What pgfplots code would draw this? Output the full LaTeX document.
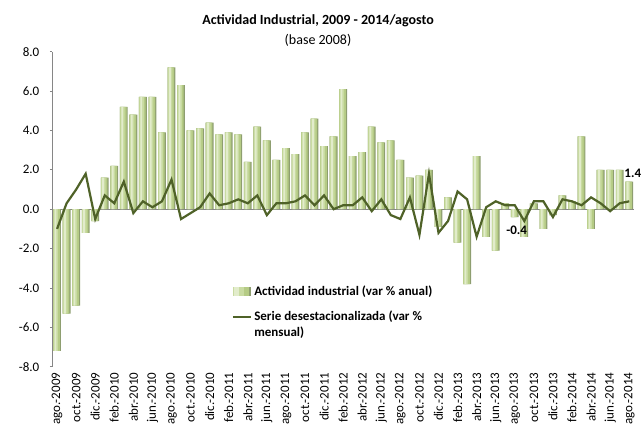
\documentclass[border=0pt]{standalone}
\usepackage{fontspec}
\setmainfont{Carlito}
\usepackage{pgfplots}
\pgfplotsset{compat=1.18}
\usepackage{pgfplotstable}

\definecolor{barshadow}{HTML}{8E9E70}
\definecolor{barbody}{HTML}{B5CB85}
\definecolor{barface}{HTML}{C9DBA2}
\definecolor{barlight}{HTML}{E2ECCB}
\definecolor{linegreen}{HTML}{4F6228}
\definecolor{axisgray}{HTML}{868686}

\newcommand\tickfont{\fontsize{13bp}{15.7bp}\selectfont}
\newcommand\titlefont{\fontsize{14bp}{17bp}\selectfont}

% n = month index from ago-2009; bar = var % anual; line = serie desestacionalizada
\pgfplotstableread{
n bar line
1 -7.2 -1.0
2 -5.3 0.3
3 -4.9 1.0
4 -1.2 1.8
5 -0.6 -0.5
6 1.6 0.7
7 2.2 0.3
8 5.2 1.4
9 4.8 -0.2
10 5.7 0.4
11 5.7 0.1
12 3.9 0.4
13 7.2 1.5
14 6.3 -0.5
15 4.0 -0.2
16 4.1 0.1
17 4.4 0.8
18 3.8 0.2
19 3.9 0.3
20 3.8 0.5
21 2.4 0.3
22 4.2 0.7
23 3.5 -0.3
24 2.5 0.3
25 3.1 0.3
26 2.8 0.4
27 3.9 0.7
28 4.6 0.2
29 3.2 0.7
30 3.7 0.0
31 6.1 0.2
32 2.7 0.2
33 2.9 0.6
34 4.2 -0.1
35 3.4 0.5
36 3.5 -0.3
37 2.5 -0.5
38 1.6 0.6
39 1.7 -1.3
40 2.0 1.8
41 -0.9 -1.2
42 0.6 -0.6
43 -1.7 0.9
44 -3.8 0.5
45 2.7 -1.4
46 -1.4 0.1
47 -2.1 0.4
48 0.3 0.2
49 -0.4 0.2
50 -1.4 -0.6
51 0.3 0.4
52 -1.0 0.4
53 -0.3 -0.4
54 0.7 0.5
55 0.4 0.4
56 3.7 0.2
57 -1.0 0.6
58 2.0 0.3
59 2.0 -0.1
60 2.0 0.3
61 1.4 0.4
}\datatable

\begin{document}
\begin{tikzpicture}
\path[use as bounding box] (-52.3bp,-62.3bp) rectangle (589.7bp,366.7bp);
\begin{axis}[
    at={(0,0)}, anchor=south west,
    scale only axis, width=581.7bp, height=315bp,
    xmin=0.5, xmax=61.5, ymin=-8, ymax=8,
    axis x line*=bottom, axis y line*=left,
    x axis line style={draw=none},
    y axis line style={draw=axisgray, line width=0.8bp},
    xtick={1,3,...,61},
    xticklabels={ago.-2009,oct.-2009,dic.-2009,feb.-2010,abr.-2010,jun.-2010,
        ago.-2010,oct.-2010,dic.-2010,feb.-2011,abr.-2011,jun.-2011,
        ago.-2011,oct.-2011,dic.-2011,feb.-2012,abr.-2012,jun.-2012,
        ago.-2012,oct.-2012,dic.-2012,feb.-2013,abr.-2013,jun.-2013,
        ago.-2013,oct.-2013,dic.-2013,feb.-2014,abr.-2014,jun.-2014,ago.-2014},
    xtick style={draw=none},
    x tick label style={rotate=90, anchor=east, font=\tickfont},
    ytick={-8,-6,...,8},
    ytick style={draw=axisgray, line width=0.8bp},
    tick align=outside, major tick length=2.5bp,
    yticklabel style={font=\tickfont, xshift=-7bp, /pgf/number format/.cd, fixed, fixed zerofill, precision=1, assume math mode=true},
    extra y ticks={0}, extra y tick labels={},
    extra y tick style={grid=major, major grid style={draw=axisgray, line width=1.2bp}, major tick length=0pt},
    clip=false,
    legend style={at={(axis cs:19.3,-3.82)}, anchor=north west, draw=none, fill=none,
        inner sep=0pt, row sep=12bp, column sep=1bp, font=\tickfont\bfseries,
        cells={anchor=west, align=left}, nodes={inner sep=1bp, text depth=}},
]
% bars drawn in layers to imitate the cylinder look
\addplot[ybar, bar width=7.8bp, bar shift=0pt, draw=none, fill=barshadow,
    legend image code/.code={
        \fill[barshadow] (0bp,-4.5bp) rectangle (18.3bp,4.5bp);
        \fill[barbody] (0bp,-4.5bp) rectangle (16bp,4.5bp);
        \fill[barface] (0bp,-4.5bp) rectangle (11bp,4.5bp);
        \fill[barlight] (1bp,-4.5bp) rectangle (6bp,4.5bp);}]
    table[x=n, y=bar]{\datatable};
\addlegendentry{Actividad industrial (var \% anual)}
\addplot[ybar, bar width=6.6bp, bar shift=-0.6bp, draw=none, fill=barbody, forget plot]
    table[x=n, y=bar]{\datatable};
\addplot[ybar, bar width=4.4bp, bar shift=-1.3bp, draw=none, fill=barface, forget plot]
    table[x=n, y=bar]{\datatable};
\addplot[ybar, bar width=1.8bp, bar shift=-1.6bp, draw=none, fill=barlight, forget plot]
    table[x=n, y=bar]{\datatable};
\addplot[linegreen, line width=2.2bp, mark=none,
    legend image code/.code={\draw[linegreen, line width=2.2bp] (0bp,7.85bp) -- (18.3bp,7.85bp);}]
    table[x=n, y=line]{\datatable};
\addlegendentry{Serie desestacionalizada (var \%\\mensual)}
\node[font=\tickfont\bfseries] at (axis cs:49.2,-1.05) {-0.4};
\node[font=\tickfont\bfseries, anchor=west, inner sep=0pt] at (axis cs:60.48,1.84) {1.4};
\end{axis}
\node[font=\titlefont\bfseries] at (265.7bp,345.7bp) {Actividad Industrial, 2009 - 2014/agosto};
\node[font=\titlefont] at (265.7bp,326.7bp) {(base 2008)};
\end{tikzpicture}
\end{document}
